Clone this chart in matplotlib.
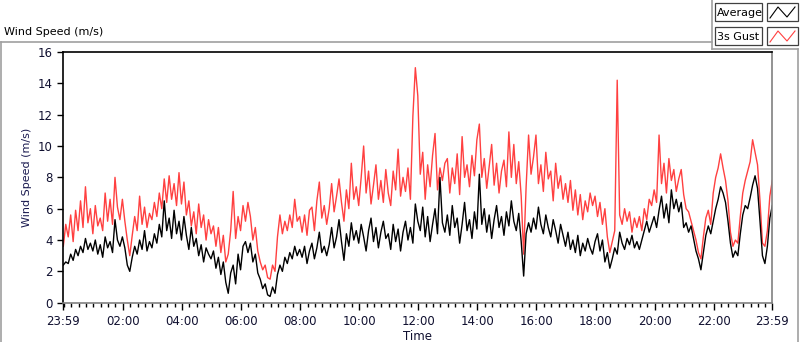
import numpy as np
import matplotlib
matplotlib.use("Agg")
import matplotlib.pyplot as plt
from matplotlib.lines import Line2D
from matplotlib.patches import Rectangle

# 5-minute readings, one row per hour, starting 23:59
avg_rows = [
    [2.4, 2.6, 2.5, 3.1, 2.7, 3.4, 3.0, 3.6, 3.2, 4.1, 3.4, 3.8],
    [3.3, 4.0, 3.1, 3.7, 2.9, 4.2, 3.5, 3.9, 3.2, 5.3, 4.0, 3.6],
    [4.2, 3.5, 2.4, 2.0, 2.9, 3.6, 3.1, 4.0, 3.4, 4.6, 3.3, 3.9],
    [3.5, 4.4, 3.8, 5.0, 4.2, 6.5, 4.6, 5.4, 4.1, 5.9, 4.4, 5.2],
    [4.0, 5.5, 4.3, 3.4, 4.8, 3.6, 4.1, 3.0, 3.7, 2.6, 3.5, 3.1],
    [2.8, 3.3, 2.2, 2.9, 1.8, 2.6, 1.3, 0.6, 1.9, 2.4, 1.2, 3.1],
    [2.1, 3.6, 3.9, 3.2, 3.8, 2.6, 3.1, 1.9, 1.5, 0.9, 1.2, 0.5],
    [0.4, 1.0, 0.6, 1.8, 2.4, 2.0, 2.9, 2.5, 3.2, 2.8, 3.6, 3.0],
    [3.4, 2.9, 3.6, 2.5, 3.3, 3.8, 2.8, 3.5, 4.5, 3.2, 3.6, 3.0],
    [3.7, 4.8, 3.5, 4.2, 5.3, 3.9, 2.7, 4.4, 3.6, 5.1, 4.0, 4.6],
    [3.8, 5.0, 4.2, 3.3, 4.6, 5.4, 3.9, 4.8, 3.5, 4.5, 5.2, 4.1],
    [4.4, 3.4, 5.0, 3.9, 4.7, 3.3, 4.5, 5.2, 4.0, 4.8, 3.8, 6.3],
    [5.2, 4.6, 6.1, 4.2, 5.5, 3.9, 5.0, 6.0, 4.4, 8.0, 5.1, 4.5],
    [5.6, 4.3, 6.2, 4.8, 5.4, 3.8, 5.0, 6.4, 4.6, 5.3, 4.1, 5.8],
    [4.7, 8.2, 5.0, 6.0, 4.5, 5.6, 4.1, 5.3, 6.2, 4.8, 5.5, 4.3],
    [5.8, 4.9, 6.5, 5.2, 4.6, 5.7, 3.9, 1.7, 4.4, 5.1, 4.5, 5.4],
    [4.7, 6.1, 5.0, 4.4, 5.6, 4.8, 4.2, 5.3, 4.6, 3.8, 5.0, 4.3],
    [3.6, 4.5, 3.4, 4.0, 3.2, 4.3, 3.0, 3.8, 3.3, 4.1, 3.5, 3.1],
    [3.9, 4.4, 3.3, 4.0, 2.6, 3.2, 2.2, 2.8, 3.5, 3.1, 4.5, 3.8],
    [3.4, 4.1, 3.7, 4.3, 3.5, 3.9, 3.4, 4.0, 4.6, 5.2, 4.5, 5.0],
    [5.5, 4.8, 5.9, 6.8, 5.4, 6.3, 5.1, 7.2, 6.0, 6.6, 5.8, 6.4],
    [4.8, 5.1, 4.5, 4.9, 4.1, 3.3, 2.8, 2.1, 3.2, 4.3, 4.9, 4.4],
    [5.2, 6.0, 6.6, 7.4, 7.0, 6.4, 5.2, 3.8, 2.9, 3.3, 3.0, 4.4],
    [5.6, 6.2, 6.0, 6.7, 7.5, 8.1, 7.3, 5.2, 3.0, 2.5, 3.6, 5.4],
]
avg_last = 6.2

gust_rows = [
    [3.6, 5.0, 4.2, 5.6, 3.9, 5.9, 4.6, 6.5, 4.8, 7.4, 5.1, 6.0],
    [4.4, 6.2, 4.9, 5.4, 4.6, 7.0, 5.2, 6.6, 5.0, 8.0, 6.1, 5.3],
    [6.6, 5.2, 4.0, 3.0, 4.3, 5.5, 4.6, 6.8, 5.0, 6.1, 4.8, 5.7],
    [5.3, 6.4, 5.5, 7.0, 6.0, 7.9, 6.4, 8.1, 6.6, 7.6, 6.2, 8.3],
    [6.3, 7.7, 5.6, 6.5, 4.9, 5.8, 4.4, 6.3, 4.8, 5.6, 4.0, 5.3],
    [4.4, 4.9, 3.6, 4.8, 3.2, 4.3, 2.6, 3.1, 4.6, 7.1, 4.1, 5.5],
    [4.6, 6.2, 5.2, 6.4, 5.5, 4.0, 4.8, 3.3, 2.6, 2.1, 2.4, 1.6],
    [1.5, 2.4, 2.0, 4.2, 5.6, 4.4, 5.2, 4.6, 5.6, 4.8, 6.6, 5.2],
    [5.5, 4.5, 5.6, 4.3, 5.9, 6.1, 4.6, 6.5, 7.7, 5.4, 6.2, 5.0],
    [6.0, 7.6, 5.8, 6.8, 7.9, 6.4, 5.2, 7.2, 6.0, 8.9, 6.6, 7.4],
    [6.2, 8.0, 10.0, 7.0, 8.4, 6.3, 7.5, 8.8, 6.6, 7.8, 6.4, 8.5],
    [7.0, 6.2, 8.4, 7.2, 9.8, 6.8, 8.0, 7.1, 8.6, 6.6, 11.9, 15.0],
    [13.2, 8.2, 9.6, 6.6, 8.8, 7.4, 9.4, 10.8, 7.2, 8.6, 7.8, 8.9],
    [9.2, 7.0, 8.6, 7.6, 9.5, 6.9, 10.6, 8.0, 8.8, 7.4, 9.4, 8.1],
    [10.4, 11.4, 8.0, 9.2, 7.3, 8.7, 10.1, 7.5, 8.9, 7.0, 8.4, 9.1],
    [7.4, 10.9, 8.0, 10.1, 7.6, 9.0, 6.8, 3.1, 7.4, 10.7, 8.2, 9.3],
    [10.7, 7.6, 8.8, 7.1, 9.6, 7.9, 8.4, 6.5, 8.9, 7.3, 8.1, 6.6],
    [7.6, 6.4, 7.8, 5.9, 7.2, 5.6, 6.9, 5.3, 6.5, 5.8, 7.0, 6.2],
    [6.8, 5.5, 6.4, 5.0, 6.0, 4.2, 3.2, 3.9, 4.6, 14.2, 5.6, 5.0],
    [6.0, 5.2, 5.8, 4.5, 5.4, 4.8, 5.5, 4.6, 6.0, 5.3, 6.6, 6.2],
    [7.2, 6.4, 10.7, 7.6, 8.9, 7.0, 9.2, 7.8, 8.5, 7.1, 7.9, 8.5],
    [6.9, 6.0, 5.8, 5.2, 4.6, 4.0, 3.2, 2.8, 4.2, 5.4, 5.9, 5.0],
    [7.0, 8.0, 8.6, 9.5, 8.6, 7.8, 6.5, 4.5, 3.6, 4.0, 3.8, 5.5],
    [7.0, 7.8, 8.4, 9.0, 10.4, 9.6, 8.8, 6.5, 3.8, 3.6, 4.6, 6.8],
]
gust_last = 7.8

tick_labels = ["23:59", "02:00", "04:00", "06:00", "08:00", "10:00", "12:00",
               "14:00", "16:00", "18:00", "20:00", "22:00", "23:59"]
tick_minutes = [0, 121, 241, 361, 481, 601, 721, 841, 961, 1081, 1201, 1321, 1440]

avg = [v for row in avg_rows for v in row] + [avg_last]
gust = [v for row in gust_rows for v in row] + [gust_last]
t = np.arange(len(avg)) * 5

W, H = 800, 342
fig = plt.figure(figsize=(W / 100, H / 100), dpi=100)
ax = fig.add_axes([63.3 / W, 1 - 302.7 / H, (772.3 - 63.3) / W, (302.7 - 52) / H])

ax.plot(t, gust, color="#ff4040", lw=1.0)
ax.plot(t, avg, color="black", lw=1.0)

ax.set_xlim(0, 1440)
ax.set_ylim(0, 16)
ax.set_yticks(range(0, 17, 2))
ax.set_xticks(tick_minutes)
ax.set_xticklabels(tick_labels)
ax.set_xticks(np.arange(1, 1440, 15), minor=True)
ax.tick_params(axis="both", labelsize=8.5, colors="black", labelcolor="#101030")
ax.tick_params(axis="x", which="major", length=5, width=1)
ax.tick_params(axis="x", which="minor", length=3, width=1)
ax.tick_params(axis="y", length=4, width=1)

ax.spines["top"].set_color("black")
ax.spines["left"].set_color("black")
ax.spines["right"].set_color("#808080")
ax.spines["bottom"].set_color("#808080")
for s in ax.spines.values():
    s.set_linewidth(1.2)

ax.set_ylabel("Wind Speed (m/s)", fontsize=8, color="#1a1a50", labelpad=4)
ax.set_xlabel("Time", fontsize=8.5, color="#101030", labelpad=2)

# outer frame (pixel coords -> figure fraction)
def px_line(x0, y0, x1, y1, color="#a0a0a0", lw=1.2):
    fig.add_artist(Line2D([x0 / W, x1 / W], [1 - y0 / H, 1 - y1 / H],
                          color=color, lw=lw, transform=fig.transFigure))

px_line(0.5, 42, 712, 42)
px_line(0.5, 42, 0.5, 342)
px_line(712, 0, 712, 48.5)
px_line(712, 48.5, 797.5, 48.5)
px_line(797.5, 48.5, 797.5, 342)

fig.text(4 / W, 1 - 32 / H, "Wind Speed (m/s)", fontsize=8, color="black",
         va="center", ha="left")

# legend boxes
def px_rect(x0, y0, x1, y1):
    fig.add_artist(Rectangle((x0 / W, 1 - y1 / H), (x1 - x0) / W, (y1 - y0) / H,
                             transform=fig.transFigure, fill=True, fc="white",
                             ec="#404040", lw=0.9))

for (name, col, y0) in [("Average", "black", 3), ("3s Gust", "#ff4040", 27)]:
    px_rect(715, y0, 762, y0 + 18)
    px_rect(767, y0, 798, y0 + 18)
    fig.text(717 / W, 1 - (y0 + 9.5) / H, name, fontsize=8, va="center",
             ha="left", color="black")
    zx = np.array([770, 778, 787, 795])
    zy = np.array([y0 + 15, y0 + 4, y0 + 14, y0 + 4])
    fig.add_artist(Line2D(zx / W, 1 - zy / H, color=col, lw=0.8,
                          transform=fig.transFigure))

fig.savefig("out.png", dpi=100)
